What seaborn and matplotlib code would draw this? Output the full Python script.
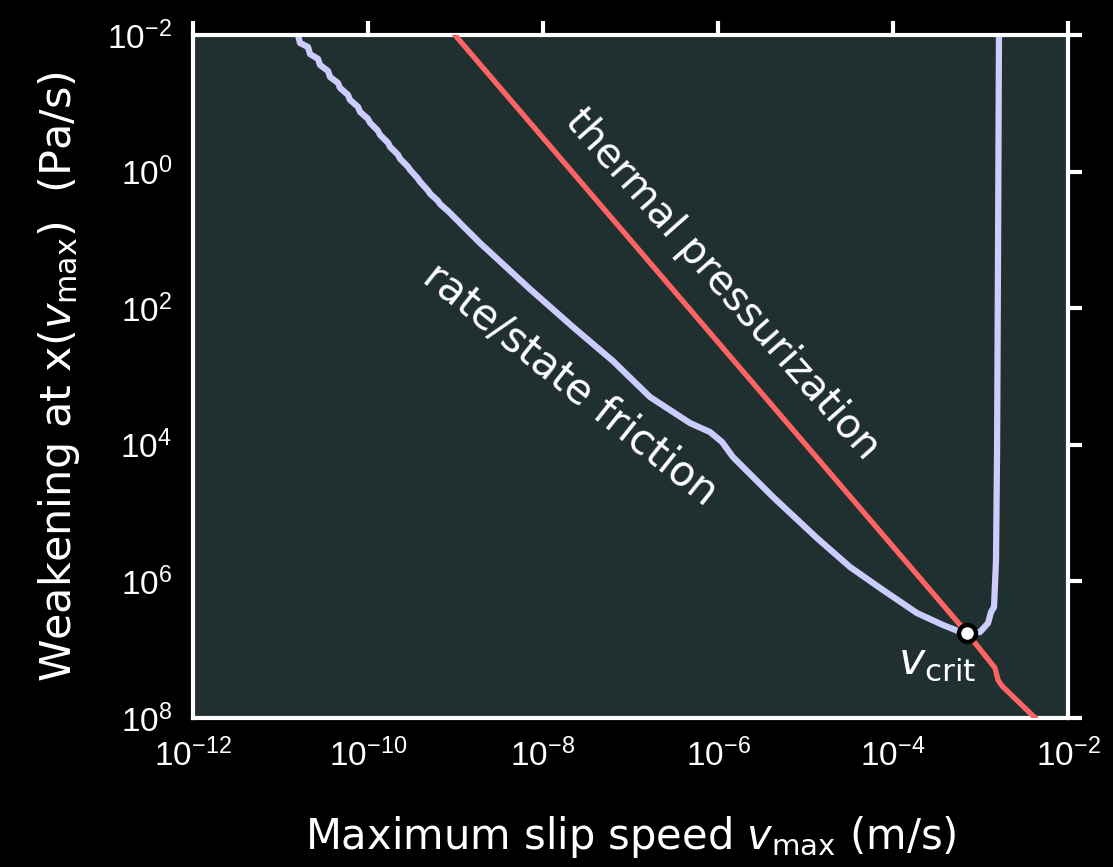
import numpy as np
import pandas as pd
import matplotlib
matplotlib.use("Agg")
import matplotlib.pyplot as plt
from matplotlib.ticker import NullLocator
import seaborn as sns

# ---- data (log10 values) ----
# rate/state friction curve: log10 of max slip speed (m/s) and weakening (Pa/s)
rs_log_v = [-10.815, -10.800, -10.777, -10.686, -10.663, -10.571, -10.549, -10.457,
            -10.434, -10.343, -10.320, -10.229, -10.206, -10.114, -10.091, -10.000,
            -9.977, -9.886, -9.863, -9.771, -9.749, -9.657, -9.634, -9.543,
            -9.520, -9.429, -9.406, -9.314, -9.291, -9.200, -9.177, -9.086,
            -9.063, -8.971, -8.949, -8.857, -8.834,
            -8.720, -8.149, -7.657, -7.200, -6.777, -6.320, -6.091, -5.954,
            -5.829, -5.371, -4.869, -4.491, -4.114, -3.726, -3.429, -3.200,
            -3.006, -2.914, -2.880, -2.846, -2.823, -2.811, -2.800, -2.789]
rs_log_w = [-2.050, -2.000, -1.883, -1.825, -1.722, -1.650, -1.562, -1.474,
            -1.386, -1.299, -1.226, -1.124, -1.051, -0.948, -0.875, -0.773,
            -0.715, -0.598, -0.539, -0.423, -0.364, -0.247, -0.189, -0.072,
            -0.028, 0.103, 0.147, 0.278, 0.322, 0.430, 0.474, 0.577,
            0.606, 0.723, 0.753, 0.870, 0.899,
            1.045, 1.719, 2.275, 2.773, 3.300, 3.681, 3.813, 3.959,
            4.179, 4.764, 5.365, 5.789, 6.126, 6.463, 6.638, 6.755,
            6.741, 6.609, 6.448, 6.375, 5.687, 4.076, 1.148, -2.070]

# thermal pressurization curve
tp_log_v = [-9.30, -3.154, -2.834, -2.800, -2.754, -2.330]
tp_log_w = [-2.44, 6.755, 7.268, 7.444, 7.530, 8.055]

# critical point
vcrit_log_v = [-3.154]
vcrit_log_w = [6.755]

x_tick_exp = [-12, -10, -8, -6, -4, -2]
y_tick_exp = [-2, 0, 2, 4, 6, 8]

# ---- style ----
sns.set_style("dark", rc={
    "axes.facecolor": "#203030",
    "figure.facecolor": "black",
    "axes.edgecolor": "white",
    "text.color": "white",
    "xtick.color": "white",
    "ytick.color": "white",
    "axes.labelcolor": "white",
    "axes.grid": False,
})
plt.rcParams["font.family"] = ["Liberation Sans", "DejaVu Sans"]
plt.rcParams["mathtext.fontset"] = "custom"
plt.rcParams["mathtext.rm"] = "DejaVu Sans"
plt.rcParams["mathtext.it"] = "DejaVu Sans:italic"
plt.rcParams["mathtext.bf"] = "DejaVu Sans:bold"

fig = plt.figure(figsize=(11.13, 8.67), dpi=100)
fig.patch.set_facecolor("black")
ax = fig.add_axes([0.1734, 0.1718, 0.7862, 0.7878])

rs = pd.DataFrame({"v": 10.0 ** np.array(rs_log_v), "w": 10.0 ** np.array(rs_log_w)})
tp = pd.DataFrame({"v": 10.0 ** np.array(tp_log_v), "w": 10.0 ** np.array(tp_log_w)})
vc = pd.DataFrame({"v": 10.0 ** np.array(vcrit_log_v), "w": 10.0 ** np.array(vcrit_log_w)})

sns.lineplot(data=tp, x="v", y="w", sort=False, estimator=None, color="#ff6464",
             lw=3.8, ax=ax, zorder=3)
sns.lineplot(data=rs, x="v", y="w", sort=False, estimator=None, color="#ccccff",
             lw=4.5, ax=ax, zorder=2, solid_joinstyle="round", solid_capstyle="butt")
sns.scatterplot(data=vc, x="v", y="w", s=150, color="white", edgecolor="black",
                linewidth=3.2, ax=ax, zorder=5)

ax.set_xscale("log")
ax.set_yscale("log")
ax.set_xlim(1e-12, 1e-2)
ax.set_ylim(1e8, 1e-2)
ax.set_xticks(10.0 ** np.array(x_tick_exp, dtype=float))
ax.set_yticks(10.0 ** np.array(y_tick_exp, dtype=float))
ax.xaxis.set_minor_locator(NullLocator())
ax.yaxis.set_minor_locator(NullLocator())
ax.grid(False)

ax.tick_params(which="major", direction="out", length=10, width=3, color="white",
               labelcolor="white", labelsize=24, top=True, right=True,
               labeltop=False, labelright=False, pad=5)
for sp in ax.spines.values():
    sp.set_color("white")
    sp.set_linewidth(3)
    sp.set_visible(True)

ax.set_xlabel(r"Maximum slip speed $v_{\mathrm{max}}$ (m/s)", fontsize=30,
              family="DejaVu Sans", color="white", labelpad=29)
ax.set_ylabel(r"Weakening at x($v_{\mathrm{max}}$)  (Pa/s)", fontsize=31,
              family="DejaVu Sans", color="white", labelpad=18)

ax.text(10 ** -5.954, 10 ** 1.66, "thermal pressurization", rotation=-48.5,
        rotation_mode="anchor", ha="center", va="center", fontsize=29,
        family="DejaVu Sans", color="white")
ax.text(10 ** -7.691, 10 ** 3.124, "rate/state friction", rotation=-38.5,
        rotation_mode="anchor", ha="center", va="center", fontsize=30,
        family="DejaVu Sans", color="white")
ax.text(10 ** -3.497, 10 ** 7.18, r"$v_{\mathrm{crit}}$", ha="center", va="center",
        fontsize=32, color="white")

fig.savefig("out.png", dpi=100, facecolor="black")
